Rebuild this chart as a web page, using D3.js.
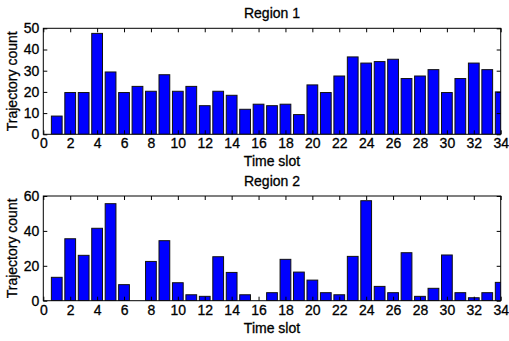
<!DOCTYPE html>
<html>
<head>
<meta charset="utf-8">
<script src="https://cdn.jsdelivr.net/npm/d3@7"></script>
<style>
  body { margin: 0; background: #fff; }
  text { font-family: "Liberation Sans", Arial, sans-serif; }
</style>
</head>
<body>
<div id="root"></div>
<script>
// time slots 1..34
const slots = d3.range(1, 35)
const xTicks = d3.range(0, 35, 2)

const region1 = [8.6, 19.7, 19.7, 47.6, 29.4, 19.7, 22.6, 20.3, 28.1, 20.3, 22.6, 13.5, 20.3, 18.4, 11.8, 14.2, 13.5,
  14.2, 9.3, 23.3, 19.7, 27.5, 36.5, 33.6, 34.3, 35.4, 26.3, 27.5, 30.5, 19.7, 26.3, 33.6, 30.5, 20]
const region2 = [13.4, 35.5, 26, 41.5, 55.6, 9.2, 0, 22.5, 34.4, 10.3, 3.4, 2.5, 25.2, 16.2, 3.4, 0, 4.6,
  23.7, 16.4, 11.8, 4.6, 3.4, 25.4, 57.3, 8.2, 4.6, 27.5, 2.5, 7.1, 26.2, 4.6, 1.7, 4.6, 10.5]

const yTicks1 = [0, 10, 20, 30, 40, 50]
const yTicks2 = [0, 20, 40, 60]

const panels = [
  { title: "Region 1", values: region1, yMax: 50, yTicks: yTicks1, top: 28.3, bottom: 134.3 },
  { title: "Region 2", values: region2, yMax: 60, yTicks: yTicks2, top: 196, bottom: 300.7 }
]

const width = 509
const height = 341
const left = 43.3
const right = 500.7
const fontSize = 14

const svg = d3.select("#root")
  .append("svg")
  .attr("width", width)
  .attr("height", height)

const x = d3.scaleLinear().domain([0, 34]).range([left, right])

// slightly heavier text, like the matlab export
const styleText = sel => sel
  .attr("fill", "#000")
  .attr("stroke", "#000")
  .attr("stroke-width", 0.3)
  .style("font-size", `${fontSize}px`)
  .style("font-family", '"Liberation Sans", Arial, sans-serif')

panels.forEach((p, pi) => {
  const y = d3.scaleLinear().domain([0, p.yMax]).range([p.bottom, p.top])
  const g = svg.append("g")

  const clipId = `clip${pi}`
  g.append("clipPath").attr("id", clipId)
    .append("rect")
    .attr("x", left).attr("y", p.top)
    .attr("width", right - left).attr("height", p.bottom - p.top)

  // bars
  g.append("g")
    .attr("clip-path", `url(#${clipId})`)
    .selectAll("rect")
    .data(slots)
    .join("rect")
    .attr("x", d => x(d - 0.4))
    .attr("width", x(0.8) - x(0))
    .attr("y", (d, i) => y(p.values[i]))
    .attr("height", (d, i) => y(0) - y(p.values[i]))
    .attr("fill", "#0000ff")
    .attr("stroke", "#111")
    .attr("stroke-width", 1)

  // axes, ticks inward
  const xAxis = g.append("g")
    .attr("transform", `translate(0,${p.bottom})`)
    .call(d3.axisBottom(x).tickValues(xTicks).tickSizeInner(-4).tickSizeOuter(0).tickPadding(4))
  const xTop = g.append("g")
    .attr("transform", `translate(0,${p.top})`)
    .call(d3.axisTop(x).tickValues(xTicks).tickSizeInner(-4).tickSizeOuter(0).tickFormat(""))
  const yAxis = g.append("g")
    .attr("transform", `translate(${left},0)`)
    .call(d3.axisLeft(y).tickValues(p.yTicks).tickSizeInner(-4).tickSizeOuter(0).tickPadding(4))
  const yRight = g.append("g")
    .attr("transform", `translate(${right},0)`)
    .call(d3.axisRight(y).tickValues(p.yTicks).tickSizeInner(-4).tickSizeOuter(0).tickFormat(""))

  ;[xAxis, xTop, yAxis, yRight].forEach(a => {
    a.select(".domain").remove()
    a.selectAll("line").attr("stroke", "#000")
    a.selectAll("text").call(styleText)
  })

  g.append("rect")
    .attr("x", left).attr("y", p.top)
    .attr("width", right - left).attr("height", p.bottom - p.top)
    .attr("fill", "none")
    .attr("stroke", "#000")

  g.append("text")
    .attr("x", (left + right) / 2)
    .attr("y", p.top - 10)
    .attr("text-anchor", "middle")
    .call(styleText)
    .text(p.title)

  g.append("text")
    .attr("x", (left + right) / 2)
    .attr("y", p.bottom + 32)
    .attr("text-anchor", "middle")
    .call(styleText)
    .text("Time slot")

  g.append("text")
    .attr("transform", `translate(17,${(p.top + p.bottom) / 2}) rotate(-90)`)
    .attr("text-anchor", "middle")
    .call(styleText)
    .text("Trajectory count")
})
</script>
</body>
</html>
